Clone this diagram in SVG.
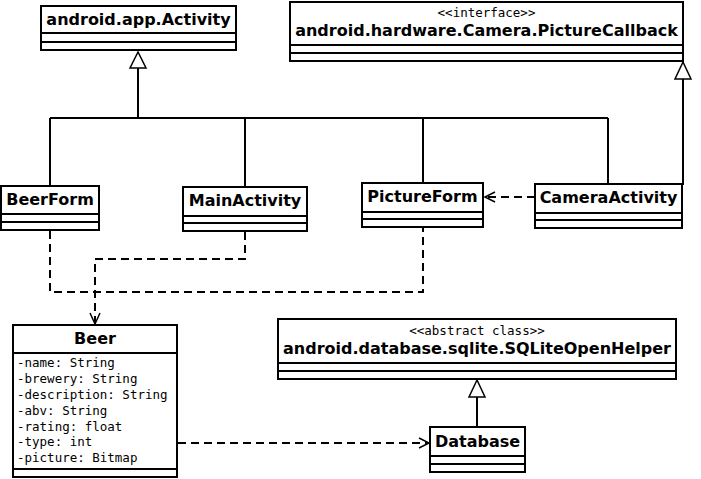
<svg xmlns="http://www.w3.org/2000/svg" width="701" height="479" viewBox="0 0 701 479">
<style>
.box{fill:#fff;stroke:#000;stroke-width:2}
.sep{stroke:#000;stroke-width:2}
.ttl{font-family:"DejaVu Sans",sans-serif;font-weight:bold;font-size:16px;text-anchor:middle;fill:#000}
.st{font-family:"DejaVu Sans Mono",monospace;font-size:12.5px;text-anchor:middle;fill:#000}
.at{font-family:"DejaVu Sans Mono",monospace;font-size:12.5px;fill:#000}
.ln{fill:none;stroke:#000;stroke-width:2}
.dl{fill:none;stroke:#000;stroke-width:2;stroke-dasharray:8,5}
.tri{fill:#fff;stroke:#000;stroke-width:1.5}
.arr{fill:none;stroke:#000;stroke-width:1.5}
</style>
<g id="connectors">
<path class="ln" d="M138,68 V118 M50,118 H608 M50,118 V186 M245,118 V187 M423,118 V183 M608,118 V184"/>
<polygon class="tri" points="138,52 130,68 146,68"/>
<path class="ln" d="M683,79 V185"/>
<polygon class="tri" points="683,62 675,79 691,79"/>
<path class="dl" d="M535,197 H485"/>
<path class="arr" d="M495,192 L485,197 L495,202"/>
<path class="dl" d="M50,231 V292 H423 V228"/>
<path class="dl" d="M245,232 V259 H95 V324"/>
<path class="arr" d="M90,313 L95,324 L100,313"/>
<path class="dl" d="M178,443 H429"/>
<path class="arr" d="M419,438 L429,443 L419,448"/>
<path class="ln" d="M477,427 V397"/>
<polygon class="tri" points="477,380 469,397 485,397"/>
</g>
<g id="Activity">
<rect class="box" x="41" y="6" width="195" height="44"/>
<path class="sep" d="M41,33 H236 M41,42 H236"/>
<text class="ttl" x="138.5" y="25">android.app.Activity</text>
</g>
<g id="PictureCallback">
<rect class="box" x="290" y="2" width="393" height="59"/>
<path class="sep" d="M290,45 H683 M290,53 H683"/>
<text class="st" x="486.5" y="17">&lt;&lt;interface&gt;&gt;</text>
<text class="ttl" x="486.5" y="36">android.hardware.Camera.PictureCallback</text>
</g>
<g id="BeerForm">
<rect class="box" x="1" y="186" width="98" height="44"/>
<path class="sep" d="M1,214 H99 M1,222 H99"/>
<text class="ttl" x="50" y="205">BeerForm</text>
</g>
<g id="MainActivity">
<rect class="box" x="183" y="187" width="124" height="44"/>
<path class="sep" d="M183,216 H307 M183,223 H307"/>
<text class="ttl" x="245" y="206">MainActivity</text>
</g>
<g id="PictureForm">
<rect class="box" x="362" y="183" width="121" height="44"/>
<path class="sep" d="M362,212 H483 M362,219 H483"/>
<text class="ttl" x="422.5" y="202">PictureForm</text>
</g>
<g id="CameraActivity">
<rect class="box" x="535" y="184" width="147" height="44"/>
<path class="sep" d="M535,213 H682 M535,220 H682"/>
<text class="ttl" x="608.5" y="203">CameraActivity</text>
</g>
<g id="Beer">
<rect class="box" x="13" y="325" width="164" height="152"/>
<path class="sep" d="M13,353 H177 M13,469 H177"/>
<text class="ttl" x="95" y="344">Beer</text>
<text class="at" x="17" y="367">-name: String</text>
<text class="at" x="17" y="383">-brewery: String</text>
<text class="at" x="17" y="399">-description: String</text>
<text class="at" x="17" y="415">-abv: String</text>
<text class="at" x="17" y="431">-rating: float</text>
<text class="at" x="17" y="446">-type: int</text>
<text class="at" x="17" y="462">-picture: Bitmap</text>
</g>
<g id="SQLiteOpenHelper">
<rect class="box" x="278" y="319" width="398" height="60"/>
<path class="sep" d="M278,363 H676 M278,371 H676"/>
<text class="st" x="477" y="335">&lt;&lt;abstract class&gt;&gt;</text>
<text class="ttl" x="477" y="354">android.database.sqlite.SQLiteOpenHelper</text>
</g>
<g id="Database">
<rect class="box" x="430" y="427" width="95" height="45"/>
<path class="sep" d="M430,456 H525 M430,464 H525"/>
<text class="ttl" x="477.5" y="447">Database</text>
</g>
</svg>
